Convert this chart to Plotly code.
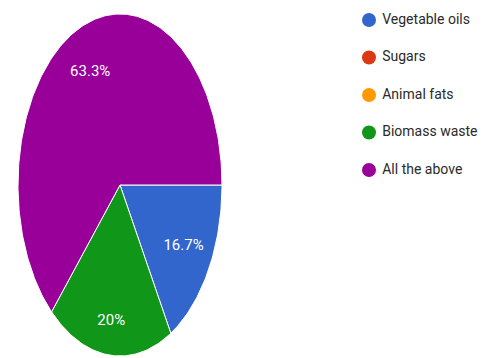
import numpy as np
import plotly.graph_objects as go

# Survey answers and their share of responses (%)
categories = ["Vegetable oils", "Sugars", "Animal fats", "Biomass waste", "All the above"]
shares = [16.7, 0.0, 0.0, 20.0, 63.3]
colors = ["#3366cc", "#dc3912", "#ff9900", "#109618", "#990099"]

W, H = 486, 358

# Pie geometry in pixels (the pie is drawn as an ellipse)
CX, CY = 120, 185
RX, RY = 102, 171
LABEL_R = [0.72, 0.0, 0.0, 0.80, 0.72]

fig = go.Figure()

# Slices start at 3 o'clock and run clockwise
total = float(sum(shares))
start = 0.0
for i, (name, val, col) in enumerate(zip(categories, shares, colors)):
    sweep = val / total * 2 * np.pi
    if val > 0:
        n = max(4, int(sweep / (2 * np.pi) * 360))
        th = np.linspace(start, start + sweep, n)
        xs = np.concatenate([[0.0], np.cos(th), [0.0]])
        ys = np.concatenate([[0.0], -np.sin(th), [0.0]])
        fig.add_trace(go.Scatter(
            x=xs, y=ys, mode="lines", fill="toself", fillcolor=col,
            line=dict(color="white", width=1), hoverinfo="skip",
            showlegend=False, xaxis="x", yaxis="y"))
        mid = start + sweep / 2
        r = LABEL_R[i]
        fig.add_trace(go.Scatter(
            x=[r * np.cos(mid)], y=[-r * np.sin(mid)], mode="text",
            text=[f"{val:g}%"],
            textfont=dict(family="Roboto, Arial, sans-serif", size=15, color="#ffffff"),
            hoverinfo="skip", showlegend=False, xaxis="x", yaxis="y"))
    start += sweep

# Legend drawn as markers with text on its own axes
idx = list(range(len(categories)))
fig.add_trace(go.Scatter(
    x=[0] * len(categories), y=idx, mode="markers+text",
    marker=dict(symbol="circle", size=14, color=colors),
    text=[" " + c for c in categories], textposition="middle right",
    textfont=dict(family="Roboto, Arial, sans-serif", size=14, color="#2a2a2a"),
    hoverinfo="skip", showlegend=False, xaxis="x2", yaxis="y2", cliponaxis=False))

# Axis ranges map unit pie coordinates to pixels
xmin = -CX / RX
xmax = xmin + W / RX
ymax = CY / RY
ymin = ymax - H / RY

row_gap = 37.5
first_row = 20
y2_top = -first_row / row_gap
y2_bot = y2_top + H / row_gap
leg_x = 369
x2_min = -leg_x
x2_max = x2_min + W

hidden = dict(visible=False, showgrid=False, zeroline=False, fixedrange=True)
fig.update_layout(
    width=W, height=H,
    margin=dict(l=0, r=0, t=0, b=0),
    paper_bgcolor="white", plot_bgcolor="white",
    xaxis=dict(range=[xmin, xmax], domain=[0, 1], **hidden),
    yaxis=dict(range=[ymin, ymax], domain=[0, 1], **hidden),
    xaxis2=dict(range=[x2_min, x2_max], domain=[0, 1], anchor="y2", overlaying="x", **hidden),
    yaxis2=dict(range=[y2_bot, y2_top], domain=[0, 1], anchor="x2", overlaying="y", **hidden),
    showlegend=False,
)

fig.write_html("out.html", config={"displayModeBar": False})
